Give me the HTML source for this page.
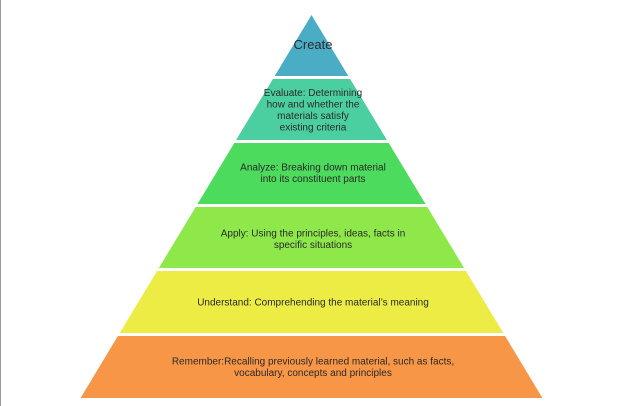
<!DOCTYPE html>
<html><head><meta charset="utf-8"><style>
html,body{margin:0;padding:0;background:#fff;width:640px;height:406px;overflow:hidden}
svg{display:block}
text{font-family:"Liberation Sans",sans-serif;font-size:10px;fill:#2a2a2a;text-anchor:middle}
</style></head><body>
<svg width="640" height="406" viewBox="0 0 640 406">
<rect x="0" y="0" width="1" height="406" fill="#9a9a9a"/>
<polygon points="311.5,15 348.3,76 274.7,76" fill="#4bacc6"/>
<polygon points="272.9,79 350.1,79 386.9,140 236.1,140" fill="#4bcfa0"/>
<polygon points="234.3,143 388.7,143 425.5,204 197.5,204" fill="#4cdb5c"/>
<polygon points="195.7,207 427.3,207 464.1,268 158.9,268" fill="#8ee84a"/>
<polygon points="157.1,271 465.9,271 503.3,333 119.7,333" fill="#ecec44"/>
<polygon points="117.9,336 505.1,336 542.4,398 80.6,398" fill="#f79646"/>
<text x="313" y="49" style="font-size:13px">Create</text>
<text x="313" y="96">Evaluate: Determining</text>
<text x="313" y="107.5">how and whether the</text>
<text x="313" y="119">materials satisfy</text>
<text x="313" y="130.5">existing criteria</text>
<text x="313" y="170.5">Analyze: Breaking down material</text>
<text x="313" y="182">into its constituent parts</text>
<text x="313" y="236.5">Apply: Using the principles, ideas, facts in</text>
<text x="313" y="248">specific situations</text>
<text x="313" y="305.5">Understand: Comprehending the material’s meaning</text>
<text x="313" y="364.5">Remember:Recalling previously learned material, such as facts,</text>
<text x="313" y="376">vocabulary, concepts and principles</text>
</svg>
</body></html>
